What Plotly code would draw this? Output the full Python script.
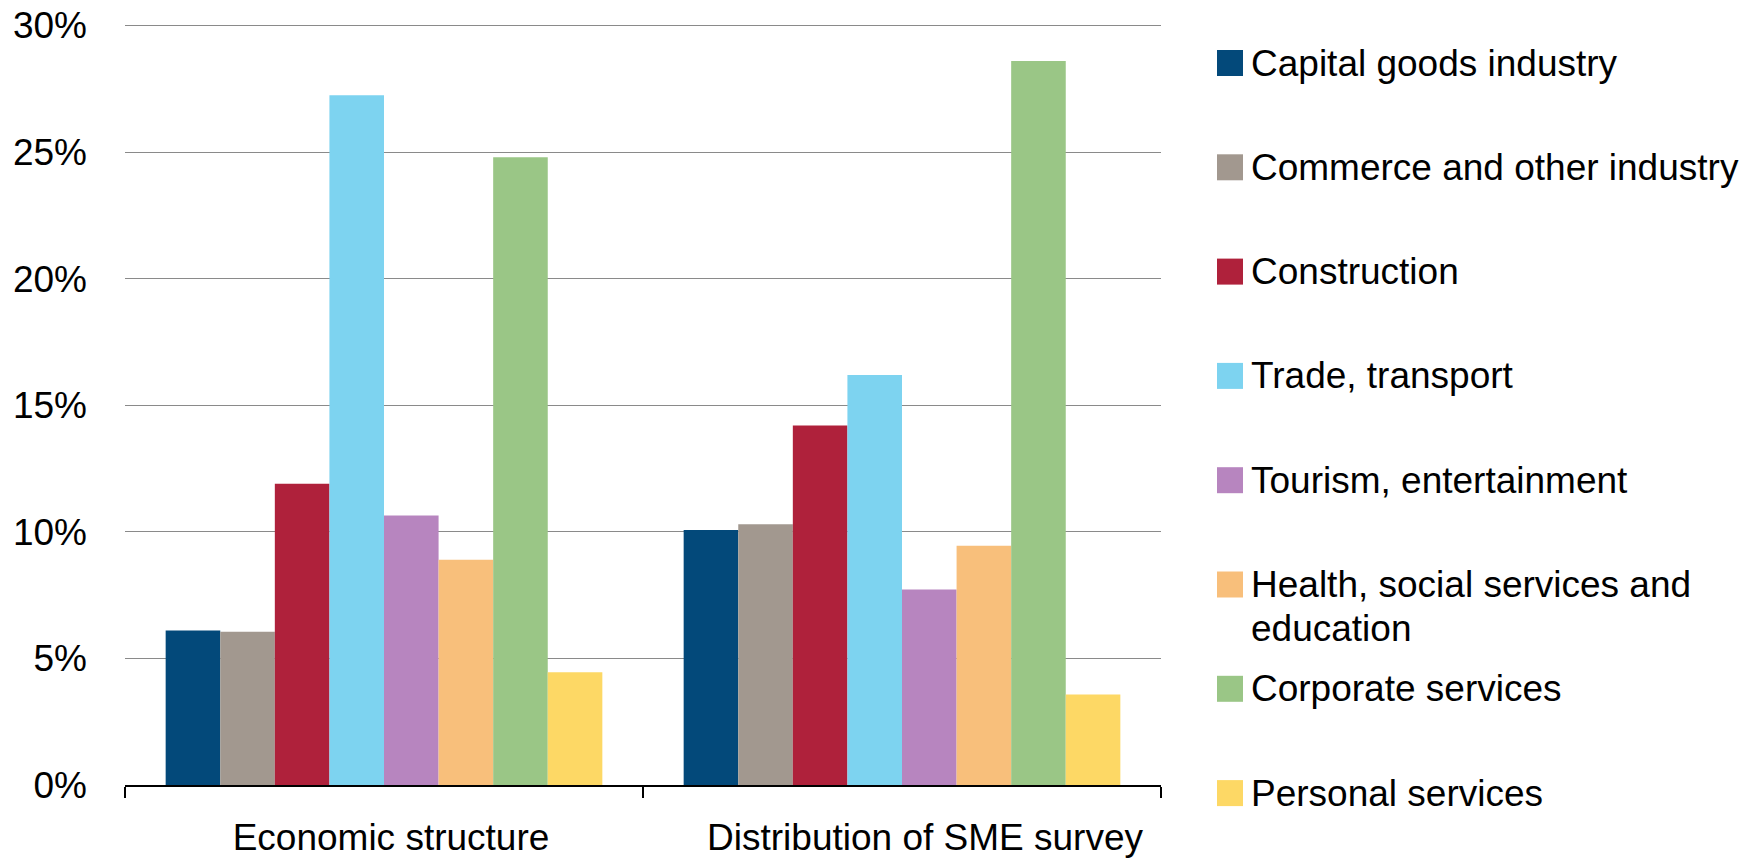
import plotly.graph_objects as go

# ---- data ----
groups = ["Economic structure", "Distribution of SME survey"]
sectors = [
    "Capital goods industry",
    "Commerce and other industry",
    "Construction",
    "Trade, transport",
    "Tourism, entertainment",
    "Health, social services and\neducation",
    "Corporate services",
    "Personal services",
]
economic_structure = [6.1, 6.05, 11.9, 27.25, 10.65, 8.9, 24.8, 4.45]
sme_survey = [10.07, 10.3, 14.2, 16.2, 7.72, 9.45, 28.6, 3.57]
colors = ["#03497A", "#A2988F", "#AF213B", "#7DD3F0",
          "#B785BF", "#F8BF7B", "#9AC686", "#FDD865"]
y_ticks = [0, 5, 10, 15, 20, 25, 30]
y_ticktext = [f"{v}%" for v in y_ticks]

# ---- layout constants ----
W, H = 1746, 858
ML, MR, MT, MB = 125, 585, 23, 73
PW, PH = W - ML - MR, H - MT - MB
FONT = "Liberation Sans, Arial, Helvetica, sans-serif"
FS = 37


def px_x(px):
    return (px - ML) / PW


def px_y(py):
    return (H - MB - py) / PH


fig = go.Figure()
x_pos = list(range(len(groups)))
for i, name in enumerate(sectors):
    vals = [economic_structure[i], sme_survey[i]]
    fig.add_trace(go.Bar(
        x=x_pos, y=vals, name=name.replace("\n", " "),
        marker=dict(color=colors[i], line=dict(width=0)),
        showlegend=False,
    ))

# manual legend (items evenly spaced, first line aligned with swatch)
shapes = []
annotations = []
item0, step, line_h, sw = 63, 104.3, 44, 26
for i, name in enumerate(sectors):
    cy = item0 + i * step
    shapes.append(dict(
        type="rect", xref="paper", yref="paper",
        x0=px_x(1217), x1=px_x(1217 + sw),
        y0=px_y(cy + sw / 2), y1=px_y(cy - sw / 2),
        fillcolor=colors[i], line=dict(width=0), layer="above",
    ))
    for j, line in enumerate(name.split("\n")):
        annotations.append(dict(
            xref="paper", yref="paper",
            x=px_x(1249), y=px_y(cy + j * line_h),
            xanchor="left", yanchor="middle",
            text=line, showarrow=False, align="left",
            font=dict(family=FONT, size=FS, color="black"),
        ))

fig.update_layout(
    width=W, height=H,
    margin=dict(l=ML, r=MR, t=MT, b=MB, pad=0, autoexpand=False),
    paper_bgcolor="white", plot_bgcolor="white",
    barmode="group", bargap=0.157, bargroupgap=0,
    font=dict(family=FONT, size=FS, color="black"),
    shapes=shapes, annotations=annotations,
    xaxis=dict(
        range=[-0.5, 1.5], automargin=False,
        tickmode="array", tickvals=[0.0135, 0.0445 + 1], ticktext=groups,
        ticks="", showgrid=False, zeroline=False,
        showline=True, linecolor="black", linewidth=2,
        ticklabelstandoff=19,
        tickfont=dict(family=FONT, size=FS, color="black"),
        minor=dict(tickmode="array", tickvals=[-0.5, 0.5, 1.5],
                   ticks="outside", ticklen=11, tickwidth=2,
                   tickcolor="black", showgrid=False),
        fixedrange=True,
    ),
    yaxis=dict(
        range=[0, 30.1], automargin=False,
        tickmode="array", tickvals=y_ticks, ticktext=y_ticktext,
        showgrid=True, gridcolor="#8a8a8a", gridwidth=1.3,
        zeroline=False, showline=False, ticks="",
        ticklabelstandoff=37,
        tickfont=dict(family=FONT, size=FS, color="black"),
        fixedrange=True,
    ),
)

fig.write_html("out.html")
